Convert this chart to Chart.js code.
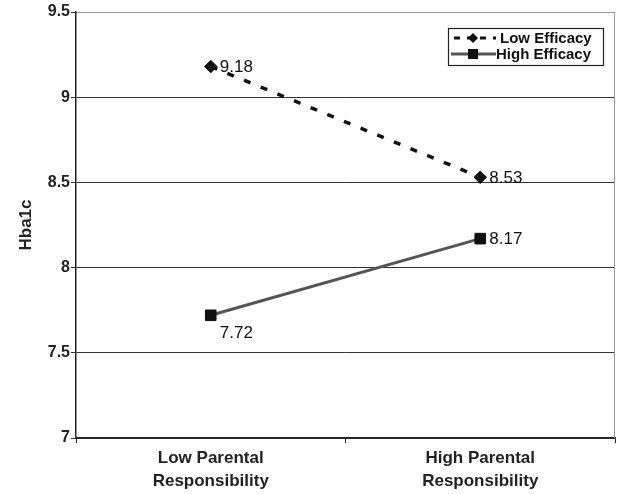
<!DOCTYPE html>
<html>
<head>
<meta charset="utf-8">
<script src="https://cdn.jsdelivr.net/npm/chart.js@4/dist/chart.umd.min.js"></script>
<style>
  html, body { margin: 0; padding: 0; background: #fff; }
  #wrap { width: 617px; height: 494px; }
</style>
</head>
<body>
<div id="wrap"><canvas id="hbaChart"></canvas></div>
<script>
// categories and series values
const categories = [['Low Parental', 'Responsibility'], ['High Parental', 'Responsibility']];
const lowEfficacy = [9.18, 8.53];
const highEfficacy = [7.72, 8.17];
const seriesNames = ['Low Efficacy', 'High Efficacy'];
const yTicks = [7, 7.5, 8, 8.5, 9, 9.5];

const FONT = '"Liberation Sans", Arial, sans-serif';

// value labels next to each point
const valueLabels = {
  id: 'valueLabels',
  afterDatasetsDraw(chart) {
    const ctx = chart.ctx;
    ctx.save();
    ctx.font = '17px ' + FONT;
    ctx.fillStyle = '#111';
    ctx.textBaseline = 'middle';
    chart.data.datasets.forEach((ds, di) => {
      chart.getDatasetMeta(di).data.forEach((pt, i) => {
        const v = ds.data[i];
        let x = pt.x + 9, y = pt.y + 1;
        // 7.72 sits under its marker
        if (di === 1 && i === 0) { x = pt.x + 9; y = pt.y + 18; }
        ctx.fillText(v.toFixed(2), x, y);
      });
    });
    ctx.restore();
  }
};

// boxed legend inside the plot, plus right border
const boxLegend = {
  id: 'boxLegend',
  afterDraw(chart) {
    const ctx = chart.ctx;
    const a = chart.chartArea;
    ctx.save();
    // right border of plot
    ctx.strokeStyle = '#999';
    ctx.lineWidth = 1;
    ctx.beginPath();
    ctx.moveTo(a.right - 0.5, a.top);
    ctx.lineTo(a.right - 0.5, a.bottom);
    ctx.stroke();

    const bx = 448, by = 28, bw = 155, bh = 37;
    ctx.fillStyle = '#fff';
    ctx.fillRect(bx, by, bw, bh);
    ctx.strokeStyle = '#222';
    ctx.lineWidth = 1.2;
    ctx.strokeRect(bx + 0.5, by + 0.5, bw, bh);

    ctx.font = 'bold 15px ' + FONT;
    ctx.textBaseline = 'middle';
    const rows = [by + 10, by + 26];
    // Low Efficacy
    ctx.strokeStyle = '#111';
    ctx.lineWidth = 3;
    ctx.setLineDash([6, 7]);
    ctx.beginPath();
    ctx.moveTo(bx + 6, rows[0]);
    ctx.lineTo(bx + 48, rows[0]);
    ctx.stroke();
    ctx.setLineDash([]);
    ctx.fillStyle = '#111';
    ctx.beginPath();
    ctx.moveTo(bx + 25, rows[0] - 5);
    ctx.lineTo(bx + 30, rows[0]);
    ctx.lineTo(bx + 25, rows[0] + 5);
    ctx.lineTo(bx + 20, rows[0]);
    ctx.closePath();
    ctx.fill();
    ctx.fillText(seriesNames[0], bx + 52, rows[0] + 1);
    // High Efficacy
    ctx.strokeStyle = '#555';
    ctx.beginPath();
    ctx.moveTo(bx + 3, rows[1]);
    ctx.lineTo(bx + 48, rows[1]);
    ctx.stroke();
    ctx.fillStyle = '#111';
    ctx.fillRect(bx + 20, rows[1] - 5, 10, 10);
    ctx.fillText(seriesNames[1], bx + 48, rows[1] + 1);
    ctx.restore();
  }
};

new Chart(document.getElementById('hbaChart').getContext('2d'), {
  type: 'line',
  data: {
    labels: categories,
    datasets: [{
      label: seriesNames[0],
      data: lowEfficacy,
      borderColor: '#111',
      backgroundColor: '#111',
      borderWidth: 3.5,
      borderDash: [7, 11],
      pointStyle: 'rectRot',
      pointRadius: 6.3,
      pointHoverRadius: 6.3,
      pointBorderWidth: 1,
      fill: false,
      tension: 0
    }, {
      label: seriesNames[1],
      data: highEfficacy,
      borderColor: '#555',
      backgroundColor: '#111',
      pointBorderColor: '#111',
      borderWidth: 3,
      pointStyle: 'rect',
      pointRadius: 7.5,
      pointHoverRadius: 7.5,
      pointBorderWidth: 1,
      fill: false,
      tension: 0
    }]
  },
  plugins: [valueLabels, boxLegend],
  options: {
    responsive: true,
    maintainAspectRatio: false,
    animation: false,
    layout: { autoPadding: false, padding: { left: 0, right: 2, top: 12, bottom: 0 } },
    plugins: {
      legend: { display: false },
      tooltip: { enabled: false }
    },
    scales: {
      x: {
        offset: true,
        grid: {
          offset: true,
          drawOnChartArea: false,
          drawTicks: true,
          tickLength: 5,
          color: '#222'
        },
        border: { color: '#222', width: 1.5 },
        ticks: {
          color: '#222',
          padding: 4,
          font: { family: FONT, size: 17, weight: 'bold', lineHeight: 1.35 }
        },
        afterFit: s => { s.height = 56; }
      },
      y: {
        min: 7,
        max: 9.5,
        afterBuildTicks: s => { s.ticks = yTicks.map(v => ({ value: v })); },
        grid: {
          color: ctx => ctx.tick && ctx.tick.value === 9.5 ? '#999' : '#333',
          lineWidth: 1,
          tickLength: 5,
          tickColor: '#333'
        },
        border: { color: '#222', width: 1.5 },
        ticks: {
          color: '#222',
          padding: 1,
          font: { family: FONT, size: 16, weight: 'bold' },
          callback: v => String(v)
        },
        title: {
          display: true,
          text: 'Hba1c',
          color: '#222',
          padding: { top: 16, bottom: 0 },
          font: { family: FONT, size: 17, weight: 'bold' }
        },
        afterFit: s => { s.width = 76; }
      }
    }
  }
});
</script>
</body>
</html>
